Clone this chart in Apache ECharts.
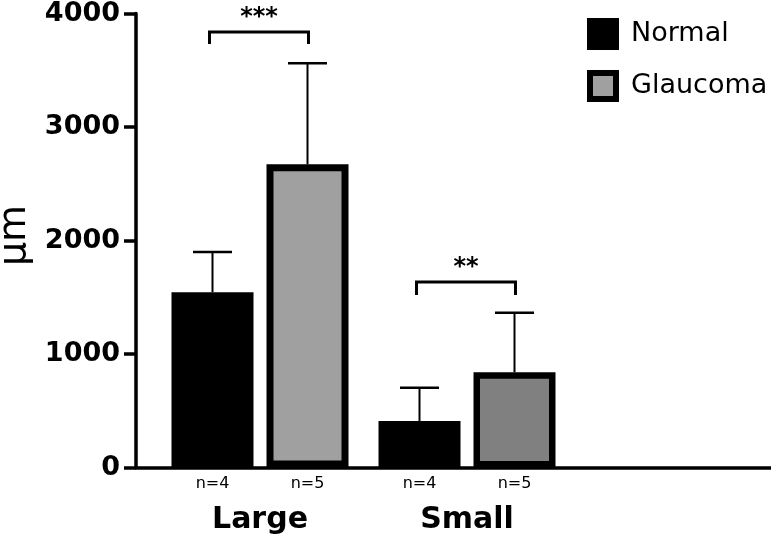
<!DOCTYPE html>
<html>
<head>
<meta charset="utf-8">
<script src="https://cdn.jsdelivr.net/npm/echarts@6/dist/echarts.min.js"></script>
<style>
html,body{margin:0;padding:0;background:#fff;}
#chart{width:771px;height:543px;}
</style>
</head>
<body>
<div id="chart"></div>
<script>
// ---- data ----
var categories = ['Large', 'Small'];
var seriesNames = ['Normal', 'Glaucoma'];
var normalMean = [1544, 410];
var normalUpper = [1899, 703];
var glaucomaMean = [2671, 839];
var glaucomaUpper = [3561, 1364];
var normalN = ['n=4', 'n=4'];
var glaucomaN = ['n=5', 'n=5'];
var yTicks = [0, 1000, 2000, 3000, 4000];
var bracketTop = [3837, 1634];
var bracketBottom = [3731, 1520];
var bracketLabel = ['***', '**'];
var glaucomaFill = ['#a0a0a0', '#808080'];
var glaucomaBorder = [7, 6.5];

// ---- layout constants ----
var FONT = 'DejaVu Sans';
var BAR_W = 82;
var BAR_GAP_PX = 13;
var HALF_PITCH = (BAR_W + BAR_GAP_PX) / 2;

var chart = echarts.init(document.getElementById('chart'));

function errorItem(sign) {
  return function (params, api) {
    var c = api.value(0);
    var p0 = api.coord([c, api.value(1)]);
    var p1 = api.coord([c, api.value(2)]);
    var x = p0[0] + sign * HALF_PITCH;
    var capHalf = 19.5;
    return {
      type: 'group',
      children: [
        {type: 'line', shape: {x1: x, y1: p0[1], x2: x, y2: p1[1]}, style: {stroke: '#000', lineWidth: 2}},
        {type: 'line', shape: {x1: x - capHalf, y1: p1[1], x2: x + capHalf, y2: p1[1]}, style: {stroke: '#000', lineWidth: 2.5}}
      ]
    };
  };
}

function bracketItem(params, api) {
  var c = api.value(0);
  var top = api.coord([c, api.value(1)]);
  var bot = api.coord([c, api.value(2)]);
  var xl = top[0] - HALF_PITCH - 3, xr = top[0] + HALF_PITCH + 1;
  return {
    type: 'group',
    children: [
      {type: 'polyline', shape: {points: [[xl, bot[1]], [xl, top[1]], [xr, top[1]], [xr, bot[1]]]},
       style: {stroke: '#000', lineWidth: 3, fill: null}},
      {type: 'text', style: {x: (xl + xr) / 2, y: top[1] - 14, text: bracketLabel[params.dataIndex],
        fill: '#000', font: 'bold 24px "' + FONT + '"', textAlign: 'center', textVerticalAlign: 'middle'}}
    ]
  };
}

var option = {
  animation: false,
  backgroundColor: '#fff',
  legend: {
    orient: 'vertical',
    left: 587,
    top: 18,
    padding: 0,
    itemWidth: 26,
    itemHeight: 26,
    itemGap: 20,
    icon: 'rect',
    data: seriesNames,
    itemStyle: {borderColor: '#000', borderWidth: 6},
    textStyle: {fontFamily: FONT, fontSize: 27, color: '#000', padding: [0, 0, 0, 10]}
  },
  grid: [
    {left: 136, right: 0, top: 13.5, bottom: 75.5, containLabel: false, outerBoundsMode: 'none'},
    {left: 156.5, width: 414, top: 13.5, bottom: 75.5, containLabel: false, outerBoundsMode: 'none'}
  ],
  xAxis: [
    {type: 'value', gridIndex: 0, min: 0, max: 1,
     axisLine: {show: true, onZero: false, lineStyle: {color: '#000', width: 3.5}},
     axisTick: {show: false}, axisLabel: {show: false}, splitLine: {show: false}},
    {type: 'category', gridIndex: 1, data: categories,
     axisLine: {show: false}, axisTick: {show: false}, splitLine: {show: false},
     axisLabel: {margin: 37.5, color: '#000', fontFamily: FONT, fontWeight: 'bold', fontSize: 30}}
  ],
  yAxis: [
    {type: 'value', gridIndex: 0, min: 0, max: 4000, interval: 1000,
     name: 'μm', nameLocation: 'middle', nameRotate: 90, nameGap: 95,
     nameTextStyle: {fontFamily: FONT, fontSize: 38, color: '#000', padding: [0, 0, 0, 10]},
     axisLine: {show: true, onZero: false, lineStyle: {color: '#000', width: 3.5}},
     axisTick: {show: true, length: 12, lineStyle: {color: '#000', width: 3.5}},
     axisLabel: {margin: 16, color: '#000', fontFamily: FONT, fontWeight: 'bold', fontSize: 27,
       formatter: function (v) { return yTicks.indexOf(v) >= 0 ? String(v) : ''; }},
     splitLine: {show: false}},
    {type: 'value', gridIndex: 1, min: 0, max: 4000, interval: 1000, show: false}
  ],
  series: [
    {
      name: 'Normal', type: 'bar', xAxisIndex: 1, yAxisIndex: 1,
      barWidth: BAR_W, barGap: (BAR_GAP_PX / BAR_W * 100) + '%',
      itemStyle: {color: '#000', borderColor: '#000', borderWidth: 0},
      label: {show: true, position: 'bottom', distance: 8.5, color: '#000', fontFamily: FONT, fontSize: 16,
        formatter: function (p) { return normalN[p.dataIndex]; }},
      data: normalMean, z: 2
    },
    {
      name: 'Glaucoma', type: 'bar', xAxisIndex: 1, yAxisIndex: 1,
      barWidth: BAR_W, barGap: (BAR_GAP_PX / BAR_W * 100) + '%',
      itemStyle: {color: glaucomaFill[0], borderColor: '#000', borderWidth: 7},
      label: {show: true, position: 'bottom', distance: 8.5, color: '#000', fontFamily: FONT, fontSize: 16,
        formatter: function (p) { return glaucomaN[p.dataIndex]; }},
      data: glaucomaMean.map(function (v, i) {
        return {value: v, itemStyle: {color: glaucomaFill[i], borderWidth: glaucomaBorder[i]}};
      }),
      z: 2
    },
    {
      type: 'custom', xAxisIndex: 1, yAxisIndex: 1, renderItem: errorItem(-1), z: 3, silent: true,
      data: categories.map(function (c, i) { return [i, normalMean[i], normalUpper[i]]; })
    },
    {
      type: 'custom', xAxisIndex: 1, yAxisIndex: 1, renderItem: errorItem(1), z: 3, silent: true,
      data: categories.map(function (c, i) { return [i, glaucomaMean[i], glaucomaUpper[i]]; })
    },
    {
      type: 'custom', xAxisIndex: 1, yAxisIndex: 1, renderItem: bracketItem, z: 3, silent: true,
      data: categories.map(function (c, i) { return [i, bracketTop[i], bracketBottom[i]]; })
    }
  ]
};
chart.setOption(option);
</script>
</body>
</html>
